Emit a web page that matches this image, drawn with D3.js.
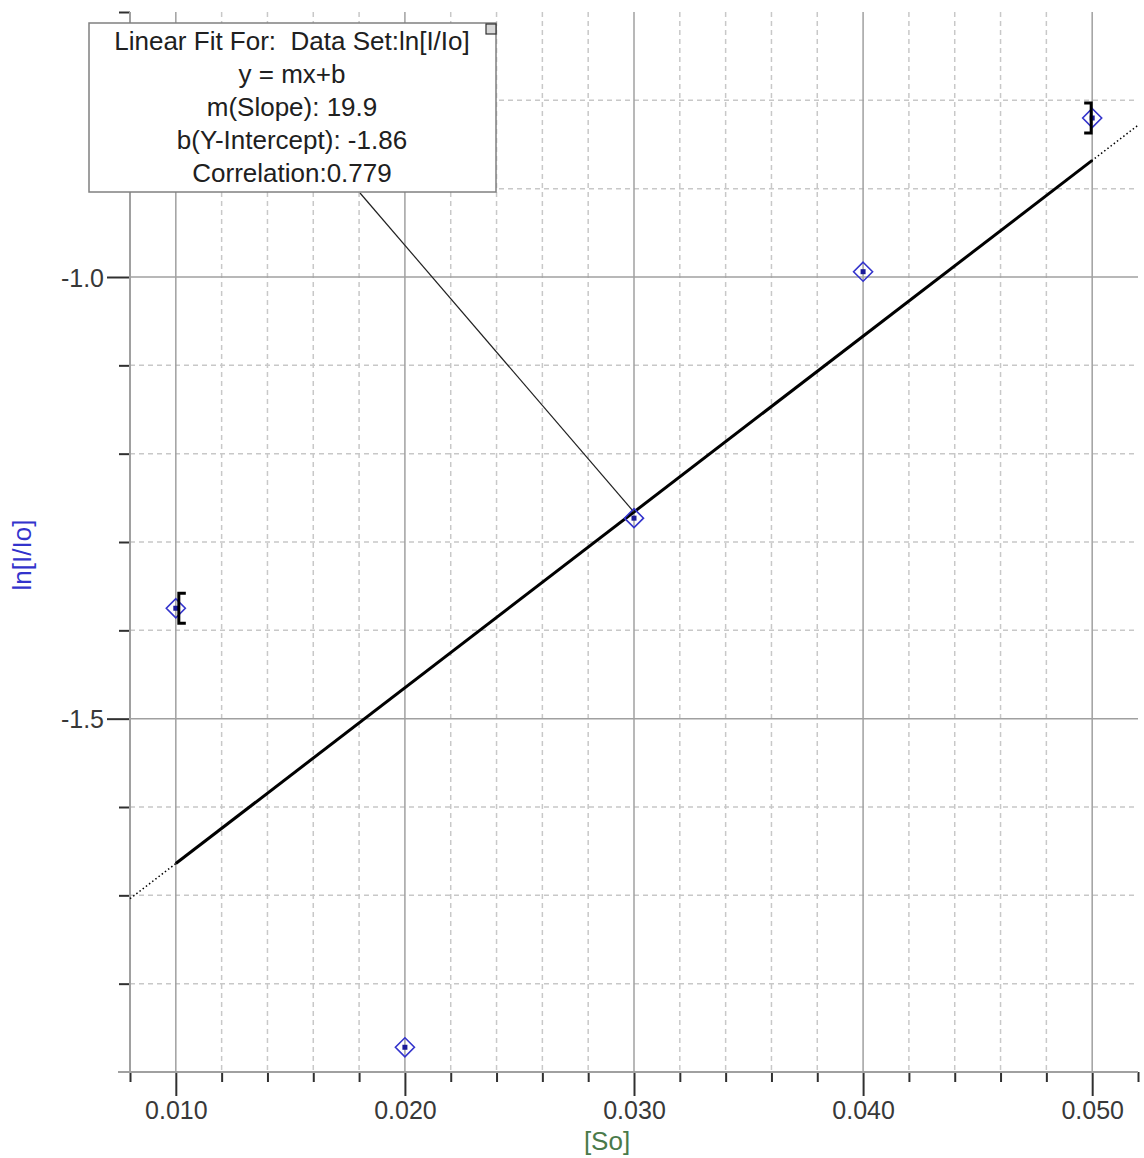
<!DOCTYPE html>
<html>
<head>
<meta charset="utf-8">
<script src="https://cdn.jsdelivr.net/npm/d3@7"></script>
<style>
  body { margin: 0; background: #fff; }
  text { font-family: "Liberation Sans", Arial, sans-serif; }
</style>
</head>
<body>
<svg id="chart" width="1144" height="1158"></svg>
<script>
// data
var xVals = [0.010, 0.020, 0.030, 0.040, 0.050];
var yVals = [-1.375, -1.872, -1.273, -0.994, -0.820];
var yErr = [0.017, 0, 0, 0, 0.017];
var errSide = [1, 0, 0, 0, -1]; // which side the bracket sits on
var fitSlope = 19.9, fitIntercept = -1.863;
var xMajor = [0.010, 0.020, 0.030, 0.040, 0.050];
var xMinor = [0.008, 0.012, 0.014, 0.016, 0.018, 0.022, 0.024, 0.026, 0.028,
  0.032, 0.034, 0.036, 0.038, 0.042, 0.044, 0.046, 0.048, 0.052];
var yMajor = [-1.0, -1.5];
var yMinor = [-0.7, -0.8, -0.9, -1.1, -1.2, -1.3, -1.4, -1.6, -1.7, -1.8];
var fitLines = ["Linear Fit For:  Data Set:ln[I/Io]", "y = mx+b", "m(Slope): 19.9",
  "b(Y-Intercept): -1.86", "Correlation:0.779"];

var svg = d3.select("#chart");
var pLeft = 130, pRight = 1138, pTop = 12, pBottom = 1072;

var x = d3.scaleLinear().domain([0.008, 0.052]).range([pLeft, pRight]);
var y = d3.scaleLinear().domain([-1.9, -0.7]).range([pBottom, pTop]);

// grid
var grid = svg.append("g");
grid.selectAll(".vmin").data(xMinor.filter(function (d) { return d > 0.0085 && d < 0.0515; }))
  .enter().append("line")
  .attr("x1", function (d) { return x(d); }).attr("x2", function (d) { return x(d); })
  .attr("y1", pTop).attr("y2", pBottom)
  .style("stroke", "#c8c8c8").style("stroke-width", 1.5).style("stroke-dasharray", "5,4");
grid.selectAll(".hmin").data(yMinor.filter(function (d) { return d < -0.75; }))
  .enter().append("line")
  .attr("x1", pLeft).attr("x2", pRight)
  .attr("y1", function (d) { return y(d); }).attr("y2", function (d) { return y(d); })
  .style("stroke", "#c8c8c8").style("stroke-width", 1.5).style("stroke-dasharray", "5,4");
grid.selectAll(".vmaj").data(xMajor)
  .enter().append("line")
  .attr("x1", function (d) { return x(d); }).attr("x2", function (d) { return x(d); })
  .attr("y1", pTop).attr("y2", pBottom)
  .style("stroke", "#a0a0a0").style("stroke-width", 1.5);
grid.selectAll(".hmaj").data(yMajor)
  .enter().append("line")
  .attr("x1", pLeft).attr("x2", pRight)
  .attr("y1", function (d) { return y(d); }).attr("y2", function (d) { return y(d); })
  .style("stroke", "#a0a0a0").style("stroke-width", 1.5);

// axes
function styleAxis(g) {
  g.select(".domain").remove();
  g.selectAll(".tick line").style("stroke", "#303030").style("stroke-width", 2);
  g.selectAll(".tick text").style("font-size", "25px").style("fill", "#383838")
    .style("font-family", "'Liberation Sans', Arial, sans-serif");
}
var xAxisMinor = svg.append("g").attr("transform", "translate(0," + pBottom + ")")
  .call(d3.axisBottom(x).tickValues(xMinor).tickSize(10).tickFormat(""));
styleAxis(xAxisMinor);
var xAxisMajor = svg.append("g").attr("transform", "translate(0," + pBottom + ")")
  .call(d3.axisBottom(x).tickValues(xMajor).tickSize(24).tickPadding(5)
    .tickFormat(function (d) { return d.toFixed(3); }));
styleAxis(xAxisMajor);
var yAxisMinor = svg.append("g").attr("transform", "translate(" + pLeft + ",0)")
  .call(d3.axisLeft(y).tickValues(yMinor).tickSize(11).tickFormat(""));
styleAxis(yAxisMinor);
var yAxisMajor = svg.append("g").attr("transform", "translate(" + pLeft + ",0)")
  .call(d3.axisLeft(y).tickValues(yMajor).tickSize(23).tickPadding(3)
    .tickFormat(function (d) { return d.toFixed(1); }));
styleAxis(yAxisMajor);
yAxisMajor.selectAll(".tick text").attr("dy", "0.36em");

// axis lines
svg.append("line").attr("x1", pLeft - 12).attr("x2", pRight).attr("y1", pBottom).attr("y2", pBottom)
  .style("stroke", "#a0a0a0").style("stroke-width", 2);
svg.append("line").attr("x1", pLeft).attr("x2", pLeft).attr("y1", pTop).attr("y2", pBottom)
  .style("stroke", "#a0a0a0").style("stroke-width", 2);

// axis titles
svg.append("text").attr("x", 607).attr("y", 1150).attr("text-anchor", "middle")
  .style("font-size", "26px").style("fill", "#4a7a4a").text("[So]");
svg.append("text").attr("transform", "translate(31,555) rotate(-90)")
  .attr("text-anchor", "middle").style("font-size", "26px").style("fill", "#3333cc").text("ln[I/Io]");

// fit line: dotted extension and solid over data range
svg.append("line")
  .attr("x1", x(0.008)).attr("y1", y(fitSlope * 0.008 + fitIntercept))
  .attr("x2", x(0.052)).attr("y2", y(fitSlope * 0.052 + fitIntercept))
  .style("stroke", "#000").style("stroke-width", 1.5).style("stroke-dasharray", "1.5,2.5");
svg.append("line")
  .attr("x1", x(d3.min(xVals))).attr("y1", y(fitSlope * d3.min(xVals) + fitIntercept))
  .attr("x2", x(d3.max(xVals))).attr("y2", y(fitSlope * d3.max(xVals) + fitIntercept))
  .style("stroke", "#000").style("stroke-width", 3);

// leader line from annotation box to point at 0.030
svg.append("line").attr("x1", 360).attr("y1", 193)
  .attr("x2", x(xVals[2])).attr("y2", y(yVals[2]) - 6)
  .style("stroke", "#202020").style("stroke-width", 1.2);

// data
var data = xVals.map(function (d, i) { return { x: d, y: yVals[i], e: yErr[i], s: errSide[i] }; });
var pts = svg.append("g").selectAll("g").data(data).enter().append("g")
  .attr("transform", function (d) { return "translate(" + x(d.x) + "," + y(d.y) + ")"; });
pts.append("path").attr("d", "M0,-9.5L9.5,0L0,9.5L-9.5,0Z")
  .style("fill", "none").style("stroke", "#3333cc").style("stroke-width", 1.6);
pts.append("rect").attr("x", -2.5).attr("y", -2.5).attr("width", 5).attr("height", 5)
  .style("fill", "#1a1a99");

// error brackets
var eb = pts.filter(function (d) { return d.e > 0; });
eb.append("path")
  .attr("d", function (d) {
    var h = y(d.y - d.e) - y(d.y);
    var vx = d.s > 0 ? 3 : -1;
    var sx = vx + d.s * 7;
    return "M" + sx + "," + (-h) + "H" + vx + "V" + h + "H" + sx;
  })
  .style("fill", "none").style("stroke", "#000").style("stroke-width", 3);

// annotation box
var box = svg.append("g");
box.append("rect").attr("x", 89).attr("y", 23).attr("width", 407).attr("height", 169)
  .style("fill", "#fff").style("stroke", "#808080").style("stroke-width", 1.5);
box.append("rect").attr("x", 486).attr("y", 24).attr("width", 10).attr("height", 10)
  .style("fill", "#d8d8d8").style("stroke", "#303030").style("stroke-width", 1.2);
box.selectAll("text").data(fitLines).enter().append("text")
  .attr("x", 292).attr("y", function (d, i) { return 50 + i * 33; })
  .attr("text-anchor", "middle").style("font-size", "26px").style("fill", "#202020")
  .attr("xml:space", "preserve")
  .text(function (d) { return d; });
</script>
</body>
</html>
